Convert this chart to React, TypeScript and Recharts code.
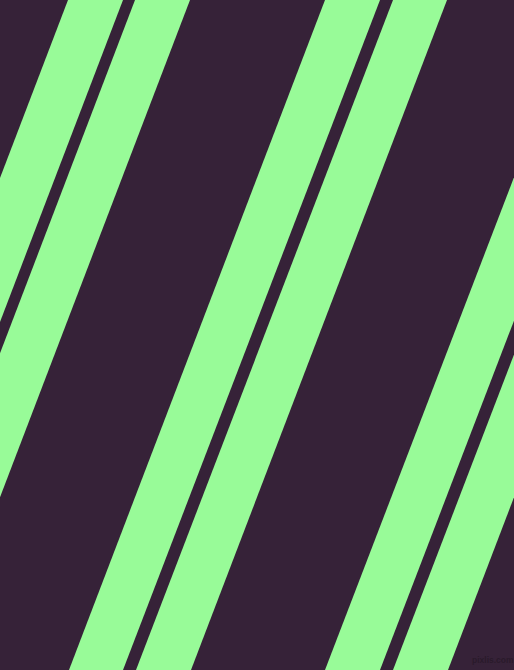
import React from 'react';
import { AreaChart, Area, XAxis, YAxis } from 'recharts';

const WIDTH = 514;
const HEIGHT = 670;
const BG = '#362238';
const GREEN = '#98fb98';

// edge rows: y position (0 = top, 670 = bottom)
const edgeY = [0, 670];
// each stripe: [left, right] x at the top edge, then at the bottom edge
const stripeTop: [number, number][] = [
  [68, 123], [135, 190], [325, 380], [393, 447], [582, 637], [650, 704],
];
const stripeBottom: [number, number][] = [
  [-188, -133], [-121, -66], [69, 123], [136, 191], [325, 380], [393, 448],
];

const rows = edgeY.map((y, i) => {
  const row: Record<string, any> = { y };
  const src = i === 0 ? stripeTop : stripeBottom;
  src.forEach((r, k) => { row[`s${k}`] = r; });
  return row;
});

export default function App() {
  return (
    <div style={{ position: 'fixed', left: 0, top: 0, width: WIDTH, height: HEIGHT, background: BG, overflow: 'hidden' }}>
      <AreaChart
        width={WIDTH}
        height={HEIGHT}
        data={rows}
        layout="vertical"
        margin={{ top: 0, right: 0, bottom: 0, left: 0 }}
      >
        <XAxis type="number" domain={[0, WIDTH]} allowDataOverflow hide />
        <YAxis type="number" dataKey="y" domain={[0, HEIGHT]} allowDataOverflow hide />
        {stripeTop.map((_, k) => (
          <Area
            key={k}
            dataKey={`s${k}`}
            type="linear"
            fill={GREEN}
            fillOpacity={1}
            stroke="none"
            dot={false}
            activeDot={false}
            isAnimationActive={false}
          />
        ))}
      </AreaChart>
      <div
        style={{
          position: 'absolute', left: 472, top: 655, fontFamily: 'Liberation Sans, sans-serif',
          fontSize: 8.5, fontWeight: 'bold', color: '#2a1a2b', lineHeight: '10px', whiteSpace: 'nowrap',
        }}
      >
        pixlis.com
      </div>
    </div>
  );
}
